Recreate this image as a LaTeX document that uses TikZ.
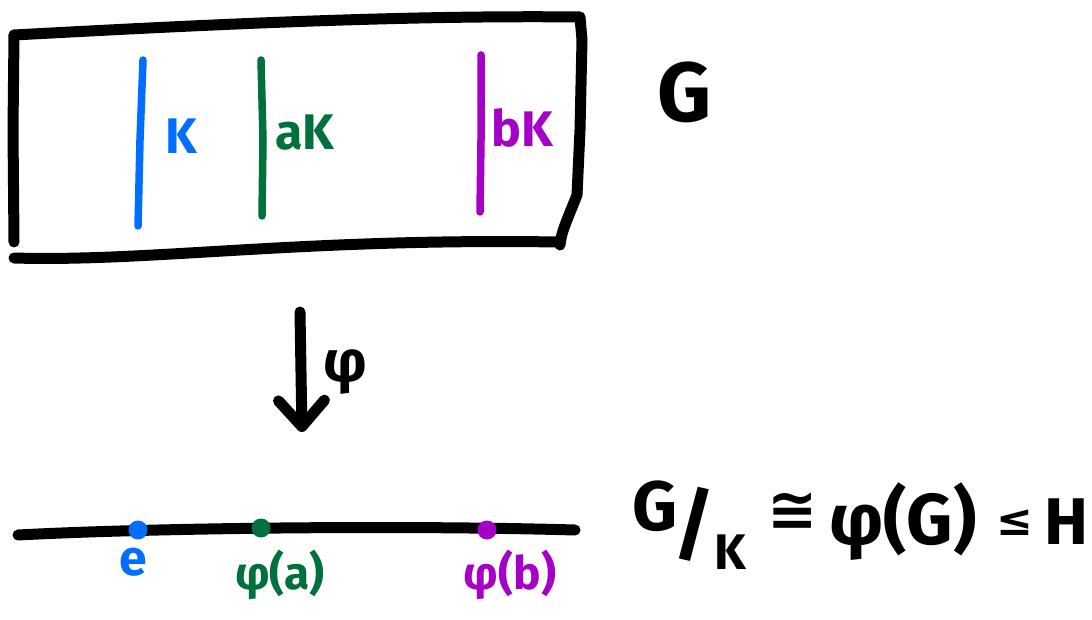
\documentclass[tikz,border=0pt]{standalone}
\usepackage{fontspec}
\setmainfont{Fira Sans}
\newfontfamily\symfont{DejaVu Sans}
\usetikzlibrary{arrows.meta}
\definecolor{cblue}{RGB}{0,110,255}
\definecolor{cgreen}{RGB}{0,112,60}
\definecolor{cpurple}{RGB}{165,0,200}
\tikzset{
  pen/.style={line width=11pt, line cap=round, line join=round, black},
  coset/.style={line width=7.5pt, line cap=round},
  lbl/.style={inner sep=0pt, font=\fontsize{50}{50}\selectfont\bfseries},
  big/.style={inner sep=0pt, font=\fontsize{84}{84}\selectfont\bfseries},
  pt/.style={circle, inner sep=0pt, minimum size=19pt},
}
\begin{document}
\begin{tikzpicture}[x=1pt,y=-1pt]
\useasboundingbox (0,0) rectangle (1092,620);
% box G
\draw[pen] (14,242) -- (13,130) -- (14,35);
\draw[pen] (14,35) .. controls (200,25) and (400,15) .. (580,17) -- (582,40) -- (580,130) -- (577,195) .. controls (568,218) and (561,232) .. (560,245);
\draw[pen] (558,242) .. controls (300,238) and (150,262) .. (14,258);
% cosets
\draw[coset, cblue] (143,60) -- (140,140) -- (138,226);
\draw[coset, cgreen] (261,60) -- (263,140) -- (262,216);
\draw[coset, cpurple] (481,55) -- (481,140) -- (480,212);
\node[lbl, text=cblue] (k) at (181,136) {K};
\node[lbl, text=cgreen] (ak) at (305,133) {aK};
\node[lbl, text=cpurple] (bk) at (522,128) {bK};
\node[big] (g) at (685,92) {G};
% arrow phi
\coordinate (atop) at (300,312);
\coordinate (abot) at (302,432);
\draw[pen, -{Straight Barb[length=26pt,width=46pt,line cap=round,line join=round]}] (atop) -- (abot);
\node[inner sep=0pt, font=\fontsize{58}{58}\selectfont\bfseries] (phi) at (345,372) {φ};
% bottom line
\coordinate (l1) at (18,535);
\coordinate (l2) at (575,530);
\draw[pen] (l1) .. controls (150,528) and (400,525) .. (l2);
\node[pt, fill=cblue] (e) at (138,530) {};
\node[pt, fill=cgreen] (pa) at (261,528) {};
\node[pt, fill=cpurple] (pb) at (487,530) {};
\node[lbl, text=cblue, font=\fontsize{50}{50}\selectfont\bfseries] (el) at (133,562) {e};
\node[lbl, text=cgreen, font=\fontsize{46}{46}\selectfont\bfseries] (pal) at (280,575) {φ(a)};
\node[lbl, text=cpurple, font=\fontsize{46}{46}\selectfont\bfseries] (pbl) at (510,575) {φ(b)};
% formula
\node[inner sep=0pt, font=\fontsize{70}{70}\selectfont\bfseries] (fg) at (655,506) {G};
\node[inner sep=0pt, font=\fontsize{80}{80}\selectfont\bfseries] (fs) at (694,524) {/};
\node[inner sep=0pt, font=\fontsize{50}{50}\selectfont\bfseries] (fk) at (730,552) {K};
\node[inner sep=0pt, font=\fontsize{60}{60}\symfont\bfseries] (fc) at (793,512) {≅};
\node[inner sep=0pt, font=\fontsize{72}{72}\selectfont\bfseries] (fp) at (903,522) {φ(G)};
\node[inner sep=0pt, font=\fontsize{44}{44}\symfont\bfseries] (fl) at (1015,523) {≤};
\node[inner sep=0pt, font=\fontsize{66}{66}\selectfont\bfseries] (fh) at (1066,522) {H};
\end{tikzpicture}
\end{document}
